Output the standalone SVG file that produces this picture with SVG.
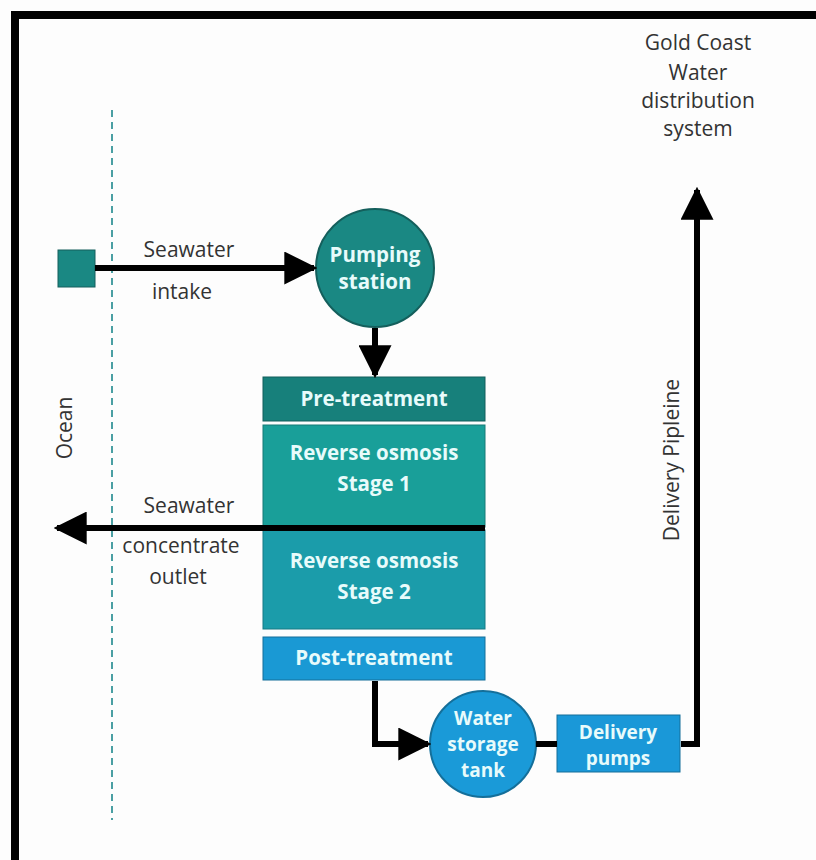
<svg xmlns="http://www.w3.org/2000/svg" width="816" height="860" viewBox="0 0 816 860">
<defs>
<style>
.lbl{font-family:"Open Sans","Liberation Sans",sans-serif;font-size:21px;fill:#333;text-anchor:middle}
.in{font-family:"Open Sans","Liberation Sans",sans-serif;font-size:20.5px;font-weight:bold;fill:#e8fbfb;text-anchor:middle}
.sm{font-size:19px}
.pipe{stroke:#000;stroke-width:6;fill:none}
</style>
<marker id="ah" viewBox="0 0 10 10" refX="9" refY="5" markerWidth="5.5" markerHeight="5.5" markerUnits="strokeWidth" orient="auto">
<path d="M0,0 L10,5 L0,10 Z" fill="#000"/>
</marker>
</defs>
<rect width="816" height="860" fill="#fdfdfd"/>
<rect x="11" y="11" width="805" height="8" fill="#000"/>
<rect x="11" y="11" width="8" height="849" fill="#000"/>
<line x1="112" y1="110" x2="112" y2="820" stroke="#4a9fa3" stroke-width="2" stroke-dasharray="7,5"/>
<text class="lbl" transform="translate(72,428) rotate(-90)">Ocean</text>
<g id="intake"><rect x="58" y="250" width="37" height="37" fill="#1a8883" stroke="#145f5c" stroke-width="1"/></g>
<g id="lbl-intake"><text class="lbl" x="189" y="257">Seawater</text><text class="lbl" x="182" y="299">intake</text></g>
<g id="pumping"><circle cx="375" cy="268" r="59" fill="#1a8883" stroke="#145f5c" stroke-width="2"/>
<text class="in" x="375" y="262">Pumping</text><text class="in" x="375" y="289">station</text></g>
<g id="pretreat"><rect x="263" y="377" width="222" height="44" fill="#17807b" stroke="#135f5c" stroke-width="1"/>
<text class="in" x="374" y="406">Pre-treatment</text></g>
<g id="ro1"><rect x="263" y="425" width="222" height="102" fill="#199f99" stroke="#167b77" stroke-width="1"/>
<text class="in" x="374" y="460">Reverse osmosis</text><text class="in" x="374" y="491">Stage 1</text></g>
<g id="ro2"><rect x="263" y="530" width="222" height="99" fill="#1b9caa" stroke="#167a85" stroke-width="1"/>
<text class="in" x="374" y="568">Reverse osmosis</text><text class="in" x="374" y="599">Stage 2</text></g>
<g id="posttreat"><rect x="263" y="637" width="222" height="43" fill="#1a99d4" stroke="#146f9a" stroke-width="1"/>
<text class="in" x="374" y="665">Post-treatment</text></g>
<g id="lbl-outlet"><text class="lbl" x="189" y="513">Seawater</text><text class="lbl" x="181" y="553">concentrate</text><text class="lbl" x="178" y="584">outlet</text></g>
<g id="tank"><circle cx="483" cy="744" r="53" fill="#1a9ad8" stroke="#146f9a" stroke-width="2"/>
<text class="in sm" x="483" y="725">Water</text><text class="in sm" x="483" y="751">storage</text><text class="in sm" x="483" y="777">tank</text></g>
<g id="pumps"><rect x="557" y="715" width="123" height="57" fill="#1a98d8" stroke="#146f9a" stroke-width="1"/>
<text class="in sm" x="618" y="739">Delivery</text><text class="in sm" x="618" y="765">pumps</text></g>
<text class="lbl" transform="translate(679,460) rotate(-90)">Delivery Pipleine</text>
<g id="goldcoast"><text class="lbl" x="698" y="50">Gold Coast</text><text class="lbl" x="698" y="80">Water</text><text class="lbl" x="698" y="108">distribution</text><text class="lbl" x="698" y="136">system</text></g>
<g id="connectors">
<line class="pipe" x1="95" y1="268" x2="314" y2="268" marker-end="url(#ah)"/>
<line class="pipe" x1="375" y1="328" x2="375" y2="375" marker-end="url(#ah)"/>
<line class="pipe" x1="485" y1="528" x2="57" y2="528" marker-end="url(#ah)"/>
<polyline class="pipe" points="375,681 375,744 428,744" marker-end="url(#ah)"/>
<line class="pipe" x1="536" y1="744" x2="557" y2="744"/>
<polyline class="pipe" points="681,744 697,744 697,190" marker-end="url(#ah)"/>
</g>
</svg>
